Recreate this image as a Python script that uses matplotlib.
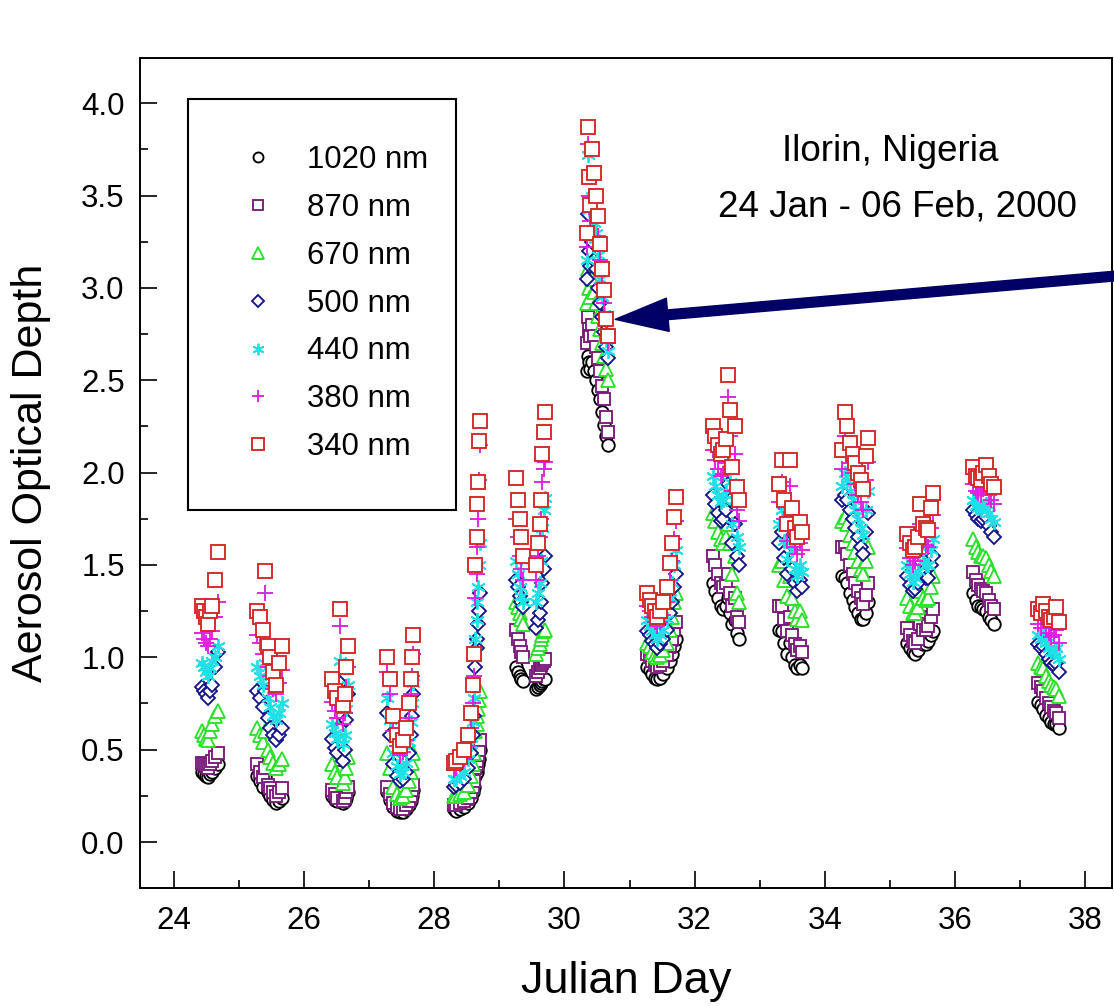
import matplotlib
matplotlib.use("Agg")
import matplotlib.pyplot as plt
from matplotlib.patches import Rectangle
from matplotlib.ticker import MultipleLocator, FormatStrFormatter

plt.rcParams['font.family'] = ['Liberation Sans', 'DejaVu Sans']

# Julian day of each observation (one line per day)
julian_day = [
    24.43, 24.46, 24.49, 24.52, 24.55, 24.59, 24.63, 24.67,
    25.28, 25.32, 25.36, 25.40, 25.44, 25.48, 25.52, 25.56, 25.62, 25.66,
    26.43, 26.47, 26.51, 26.55, 26.59, 26.62, 26.65, 26.68,
    27.27, 27.32, 27.37, 27.42, 27.47, 27.52, 27.57, 27.61, 27.64, 27.66, 27.68,
    28.30, 28.34, 28.40, 28.46, 28.52, 28.56, 28.59, 28.61, 28.63, 28.65, 28.66, 28.67, 28.68, 28.70,
    29.25, 29.28, 29.31, 29.34, 29.37, 29.56, 29.59, 29.62, 29.64, 29.66, 29.68, 29.70,
    30.34, 30.36, 30.38, 30.40, 30.43, 30.46, 30.49, 30.52, 30.55, 30.58, 30.61, 30.64, 30.67,
    31.27, 31.31, 31.35, 31.39, 31.43, 31.47, 31.52, 31.57, 31.62, 31.65, 31.68, 31.71,
    32.28, 32.32, 32.36, 32.40, 32.44, 32.48, 32.51, 32.54, 32.58, 32.62, 32.65, 32.68,
    33.30, 33.34, 33.38, 33.42, 33.46, 33.50, 33.54, 33.58, 33.62, 33.65,
    34.27, 34.31, 34.35, 34.39, 34.43, 34.47, 34.51, 34.55, 34.59, 34.63, 34.67,
    35.27, 35.31, 35.35, 35.39, 35.43, 35.47, 35.51, 35.55, 35.59, 35.63, 35.66,
    36.28, 36.32, 36.36, 36.40, 36.44, 36.48, 36.52, 36.56, 36.60,
    37.28, 37.32, 37.36, 37.40, 37.44, 37.48, 37.52, 37.56, 37.60,
]

aod_340 = [
    1.28, 1.25, 1.22, 1.18, 1.25, 1.28, 1.42, 1.57,
    1.25, 1.22, 1.15, 1.47, 1.06, 1.00, 0.92, 0.85, 0.97, 1.06,
    0.88, 0.82, 0.78, 1.26, 0.74, 0.80, 0.95, 1.06,
    1.00, 0.88, 0.68, 0.58, 0.52, 0.55, 0.62, 0.75, 0.88, 1.00, 1.12,
    0.43, 0.44, 0.46, 0.50, 0.58, 0.70, 0.85, 1.02, 1.50, 1.65, 1.83, 1.95, 2.17, 2.28,
    1.97, 1.85, 1.75, 1.65, 1.55, 1.50, 1.62, 1.72, 1.85, 2.10, 2.22, 2.33,
    3.30, 3.87, 3.60, 3.45, 3.75, 3.62, 3.50, 3.39, 3.24, 3.10, 2.99, 2.83, 2.74,
    1.35, 1.31, 1.28, 1.25, 1.22, 1.25, 1.30, 1.38, 1.51, 1.62, 1.76, 1.87,
    2.25, 2.20, 2.15, 2.10, 2.12, 2.18, 2.53, 2.34, 2.03, 2.25, 1.92, 1.85,
    1.94, 2.07, 1.85, 1.72, 2.07, 1.81, 1.70, 1.65, 1.73, 1.68,
    2.12, 2.33, 2.25, 2.16, 2.10, 2.05, 2.00, 1.96, 1.91, 2.09, 2.19,
    1.67, 1.62, 1.58, 1.60, 1.65, 1.83, 1.72, 1.70, 1.69, 1.81, 1.89,
    2.03, 1.98, 1.97, 1.96, 2.00, 2.04, 1.98, 1.94, 1.92,
    1.26, 1.24, 1.29, 1.25, 1.22, 1.20, 1.22, 1.27, 1.19,
]

aod_380 = [
    1.13, 1.10, 1.08, 1.06, 1.10, 1.14, 1.22, 1.30,
    1.12, 1.08, 1.02, 1.35, 0.95, 0.90, 0.83, 0.80, 0.86, 0.93,
    0.76, 0.71, 0.67, 1.17, 0.64, 0.70, 0.84, 0.95,
    0.92, 0.80, 0.60, 0.52, 0.47, 0.49, 0.55, 0.67, 0.80, 0.90, 1.02,
    0.39, 0.40, 0.42, 0.45, 0.52, 0.62, 0.75, 0.90, 1.32, 1.45, 1.60, 1.75, 1.96, 2.15,
    1.75, 1.65, 1.55, 1.48, 1.42, 1.42, 1.55, 1.65, 1.75, 1.95, 2.02, 2.06,
    3.22, 3.78, 3.50, 3.36, 3.62, 3.48, 3.40, 3.28, 3.15, 3.02, 2.92, 2.78, 2.70,
    1.28, 1.25, 1.22, 1.19, 1.17, 1.19, 1.23, 1.30, 1.42, 1.52, 1.64, 1.74,
    2.12, 2.07, 2.02, 1.98, 1.99, 2.05, 2.41, 2.20, 1.90, 2.10, 1.80, 1.74,
    1.84, 1.95, 1.75, 1.63, 1.93, 1.70, 1.60, 1.56, 1.62, 1.58,
    2.02, 2.20, 2.13, 2.05, 2.00, 1.94, 1.88, 1.84, 1.80, 1.96, 2.06,
    1.59, 1.54, 1.50, 1.52, 1.56, 1.72, 1.63, 1.61, 1.60, 1.70, 1.77,
    1.94, 1.90, 1.89, 1.88, 1.91, 1.93, 1.88, 1.85, 1.83,
    1.18, 1.16, 1.20, 1.16, 1.13, 1.11, 1.12, 1.15, 1.08,
]

aod_440 = [
    0.97, 0.95, 0.92, 0.90, 0.94, 0.98, 1.00, 1.06,
    0.95, 0.90, 0.85, 0.97, 0.78, 0.73, 0.68, 0.66, 0.70, 0.75,
    0.64, 0.59, 0.56, 0.98, 0.53, 0.58, 0.72, 0.85,
    0.78, 0.66, 0.48, 0.41, 0.37, 0.38, 0.43, 0.54, 0.65, 0.75, 0.86,
    0.34, 0.34, 0.36, 0.38, 0.45, 0.53, 0.65, 0.78, 1.10, 1.20, 1.30, 1.38, 1.50, 1.62,
    1.52, 1.45, 1.38, 1.33, 1.30, 1.30, 1.35, 1.40, 1.52, 1.70, 1.80, 1.86,
    3.15, 3.72, 3.42, 3.28, 3.50, 3.35, 3.30, 3.18, 3.05, 2.95, 2.86, 2.72, 2.66,
    1.20, 1.17, 1.14, 1.12, 1.10, 1.12, 1.15, 1.21, 1.32, 1.40, 1.50, 1.58,
    1.98, 1.93, 1.88, 1.84, 1.85, 1.90, 2.05, 1.95, 1.72, 1.85, 1.65, 1.60,
    1.72, 1.80, 1.63, 1.53, 1.75, 1.58, 1.48, 1.44, 1.50, 1.46,
    1.93, 2.00, 1.96, 1.90, 1.85, 1.80, 1.75, 1.70, 1.66, 1.80, 1.90,
    1.50, 1.45, 1.41, 1.43, 1.47, 1.60, 1.52, 1.50, 1.50, 1.58, 1.64,
    1.85, 1.82, 1.81, 1.80, 1.82, 1.83, 1.78, 1.75, 1.73,
    1.12, 1.10, 1.12, 1.08, 1.05, 1.03, 1.03, 1.05, 0.99,
]

aod_500 = [
    0.84, 0.82, 0.80, 0.78, 0.82, 0.85, 0.95, 1.03,
    0.82, 0.78, 0.73, 0.82, 0.67, 0.62, 0.58, 0.55, 0.58, 0.62,
    0.56, 0.51, 0.48, 0.86, 0.44, 0.50, 0.66, 0.80,
    0.70, 0.58, 0.42, 0.36, 0.33, 0.34, 0.38, 0.48, 0.58, 0.68, 0.80,
    0.30, 0.31, 0.32, 0.34, 0.40, 0.48, 0.58, 0.68, 0.95, 1.05, 1.10, 1.18, 1.25, 1.35,
    1.42, 1.38, 1.33, 1.30, 1.27, 1.16, 1.20, 1.24, 1.30, 1.40, 1.48, 1.55,
    3.05, 3.40, 3.20, 3.12, 3.25, 3.15, 3.10, 3.00, 2.92, 2.84, 2.76, 2.68, 2.62,
    1.14, 1.12, 1.09, 1.07, 1.05, 1.07, 1.10, 1.15, 1.24, 1.30, 1.38, 1.45,
    1.88, 1.83, 1.78, 1.74, 1.75, 1.80, 1.94, 1.85, 1.62, 1.72, 1.55, 1.50,
    1.62, 1.68, 1.54, 1.45, 1.62, 1.48, 1.40, 1.36, 1.42, 1.38,
    1.85, 1.88, 1.85, 1.80, 1.75, 1.70, 1.65, 1.60, 1.56, 1.68, 1.78,
    1.44, 1.39, 1.36, 1.37, 1.40, 1.52, 1.45, 1.43, 1.43, 1.50, 1.55,
    1.80, 1.77, 1.75, 1.74, 1.75, 1.76, 1.71, 1.68, 1.65,
    1.07, 1.05, 1.06, 1.02, 0.99, 0.97, 0.96, 0.97, 0.92,
]

aod_670 = [
    0.60, 0.58, 0.56, 0.55, 0.60, 0.64, 0.68, 0.71,
    0.62, 0.58, 0.54, 0.60, 0.50, 0.46, 0.43, 0.40, 0.42, 0.45,
    0.42, 0.38, 0.35, 0.62, 0.32, 0.35, 0.40, 0.46,
    0.48, 0.40, 0.30, 0.26, 0.24, 0.25, 0.28, 0.33, 0.38, 0.43, 0.48,
    0.25, 0.25, 0.26, 0.27, 0.31, 0.36, 0.42, 0.48, 0.60, 0.64, 0.68, 0.72, 0.77, 0.82,
    1.30, 1.27, 1.24, 1.21, 1.18, 1.02, 1.05, 1.07, 1.10, 1.12, 1.14, 1.15,
    2.92, 3.10, 3.00, 2.95, 3.05, 2.98, 2.92, 2.85, 2.78, 2.70, 2.63, 2.56, 2.50,
    1.08, 1.06, 1.03, 1.01, 1.00, 1.01, 1.04, 1.08, 1.15, 1.22, 1.30, 1.35,
    1.78, 1.74, 1.68, 1.64, 1.62, 1.65, 1.72, 1.62, 1.45, 1.55, 1.35, 1.30,
    1.50, 1.52, 1.42, 1.33, 1.44, 1.32, 1.25, 1.21, 1.25, 1.20,
    1.74, 1.76, 1.72, 1.66, 1.62, 1.57, 1.52, 1.48, 1.45, 1.52, 1.60,
    1.32, 1.28, 1.24, 1.24, 1.27, 1.36, 1.32, 1.31, 1.32, 1.38, 1.44,
    1.64, 1.60, 1.57, 1.55, 1.55, 1.54, 1.50, 1.47, 1.44,
    0.97, 0.95, 0.94, 0.90, 0.87, 0.85, 0.84, 0.83, 0.79,
]

aod_870 = [
    0.43, 0.42, 0.41, 0.40, 0.42, 0.44, 0.46, 0.48,
    0.42, 0.38, 0.35, 0.40, 0.31, 0.29, 0.27, 0.25, 0.27, 0.29,
    0.28, 0.26, 0.24, 0.38, 0.22, 0.24, 0.27, 0.30,
    0.30, 0.26, 0.21, 0.19, 0.18, 0.18, 0.20, 0.22, 0.25, 0.28, 0.31,
    0.20, 0.20, 0.21, 0.22, 0.24, 0.27, 0.30, 0.33, 0.40, 0.42, 0.44, 0.47, 0.50, 0.55,
    1.15, 1.10, 1.06, 1.03, 1.00, 0.90, 0.92, 0.94, 0.96, 0.97, 0.98, 0.99,
    2.70, 2.84, 2.78, 2.74, 2.80, 2.74, 2.68, 2.62, 2.55, 2.47, 2.40, 2.30, 2.22,
    1.02, 1.00, 0.98, 0.96, 0.95, 0.96, 0.98, 1.01, 1.06, 1.10, 1.15, 1.19,
    1.55, 1.50, 1.45, 1.40, 1.38, 1.40, 1.45, 1.35, 1.28, 1.32, 1.22, 1.19,
    1.28, 1.28, 1.21, 1.14, 1.22, 1.12, 1.07, 1.04, 1.06, 1.03,
    1.60, 1.60, 1.56, 1.50, 1.45, 1.40, 1.36, 1.32, 1.29, 1.34, 1.40,
    1.16, 1.12, 1.09, 1.08, 1.10, 1.18, 1.15, 1.15, 1.17, 1.22, 1.26,
    1.46, 1.42, 1.39, 1.37, 1.36, 1.35, 1.31, 1.28, 1.26,
    0.86, 0.84, 0.82, 0.78, 0.75, 0.73, 0.71, 0.70, 0.67,
]

aod_1020 = [
    0.38, 0.37, 0.36, 0.35, 0.37, 0.38, 0.40, 0.42,
    0.36, 0.33, 0.30, 0.35, 0.27, 0.25, 0.23, 0.21, 0.22, 0.24,
    0.25, 0.23, 0.22, 0.33, 0.21, 0.22, 0.24, 0.27,
    0.27, 0.23, 0.19, 0.17, 0.16, 0.16, 0.18, 0.20, 0.22, 0.25, 0.28,
    0.18, 0.17, 0.18, 0.19, 0.21, 0.24, 0.27, 0.30, 0.36, 0.38, 0.40, 0.42, 0.45, 0.50,
    0.95, 0.92, 0.90, 0.88, 0.87, 0.83, 0.84, 0.85, 0.86, 0.87, 0.88, 0.88,
    2.55, 2.63, 2.60, 2.56, 2.60, 2.55, 2.50, 2.45, 2.40, 2.33, 2.26, 2.20, 2.15,
    0.95, 0.93, 0.91, 0.89, 0.88, 0.89, 0.91, 0.94, 0.98, 1.02, 1.06, 1.10,
    1.40, 1.36, 1.32, 1.28, 1.26, 1.28, 1.32, 1.24, 1.18, 1.20, 1.13, 1.10,
    1.15, 1.14, 1.08, 1.02, 1.08, 1.00, 0.96, 0.94, 0.96, 0.94,
    1.44, 1.43, 1.40, 1.35, 1.31, 1.27, 1.24, 1.21, 1.21, 1.24, 1.30,
    1.08, 1.05, 1.03, 1.02, 1.04, 1.10, 1.07, 1.07, 1.09, 1.12, 1.14,
    1.35, 1.31, 1.28, 1.27, 1.26, 1.25, 1.22, 1.20, 1.18,
    0.76, 0.74, 0.72, 0.69, 0.67, 0.65, 0.64, 0.64, 0.62,
]

wavelength_labels = ['1020 nm', '870 nm', '670 nm', '500 nm', '440 nm', '380 nm', '340 nm']
series_values = [aod_1020, aod_870, aod_670, aod_500, aod_440, aod_380, aod_340]

for vals in series_values:
    assert len(vals) == len(julian_day), len(vals)

# marker, edge colour, size (pt) per wavelength
styles = [
    ('o', 'black', 9.0),
    ('s', '#7a1a7a', 9.0),
    ('^', '#2be02b', 10.5),
    ('D', '#14148a', 7.2),
    ((6, 2, 0), '#1fe0e6', 10.5),
    ('+', '#e020e0', 11.0),
    ('s', '#d42626', 10.5),
]

fig = plt.figure(figsize=(11.14, 10.06), dpi=100)
ax = fig.add_axes([140 / 1114, 118 / 1006, 972 / 1114, 830 / 1006])

for vals, label, (marker, color, ms) in zip(series_values, wavelength_labels, styles):
    ax.plot(julian_day, vals, linestyle='none', marker=marker, markersize=ms,
            markerfacecolor='white', markeredgecolor=color, markeredgewidth=1.35,
            label=label)

ax.set_xlim(23.477, 38.415)
ax.set_ylim(-0.249, 4.245)

ax.xaxis.set_major_locator(MultipleLocator(2))
ax.xaxis.set_minor_locator(MultipleLocator(1))
ax.yaxis.set_major_locator(MultipleLocator(0.5))
ax.yaxis.set_minor_locator(MultipleLocator(0.25))
ax.yaxis.set_major_formatter(FormatStrFormatter('%.1f'))

ax.tick_params(which='both', direction='in', top=False, right=False,
               labelsize=22.5, width=1.2)
ax.tick_params(which='major', length=12)
ax.tick_params(which='minor', length=6)
ax.tick_params(axis='y', pad=11)
ax.tick_params(axis='x', pad=13)
for sp in ax.spines.values():
    sp.set_linewidth(1.4)

ax.set_xlabel('Julian Day', fontsize=32.5, labelpad=18)
ax.set_ylabel('Aerosol Optical Depth', fontsize=31, labelpad=22)

# legend box drawn separately so its size matches the original
ax.add_patch(Rectangle((0.0494, 0.4554), 0.2757, 0.4952, transform=ax.transAxes,
                       facecolor='white', edgecolor='black', linewidth=1.5, zorder=4))
leg = ax.legend(loc='upper left', bbox_to_anchor=(0.1055, 0.8952), borderaxespad=0,
                fontsize=22.4, frameon=False, handlelength=1.0, handletextpad=1.08,
                borderpad=0, labelspacing=0.574, markerscale=0.8, numpoints=1)
leg.set_zorder(5)

ax.text(0.772, 0.887, 'Ilorin, Nigeria', transform=ax.transAxes,
        ha='center', va='center', fontsize=26.5)
ax.text(0.779, 0.821, '24 Jan - 06 Feb, 2000', transform=ax.transAxes,
        ha='center', va='center', fontsize=26.5)

ax.annotate('', xy=(30.78, 2.83), xycoords='data',
            xytext=(1.01, 0.738), textcoords='axes fraction',
            arrowprops=dict(facecolor='#000066', edgecolor='#000066',
                            width=7, headwidth=24, headlength=38, shrink=0),
            annotation_clip=False)

fig.savefig('out.png', dpi=100)
